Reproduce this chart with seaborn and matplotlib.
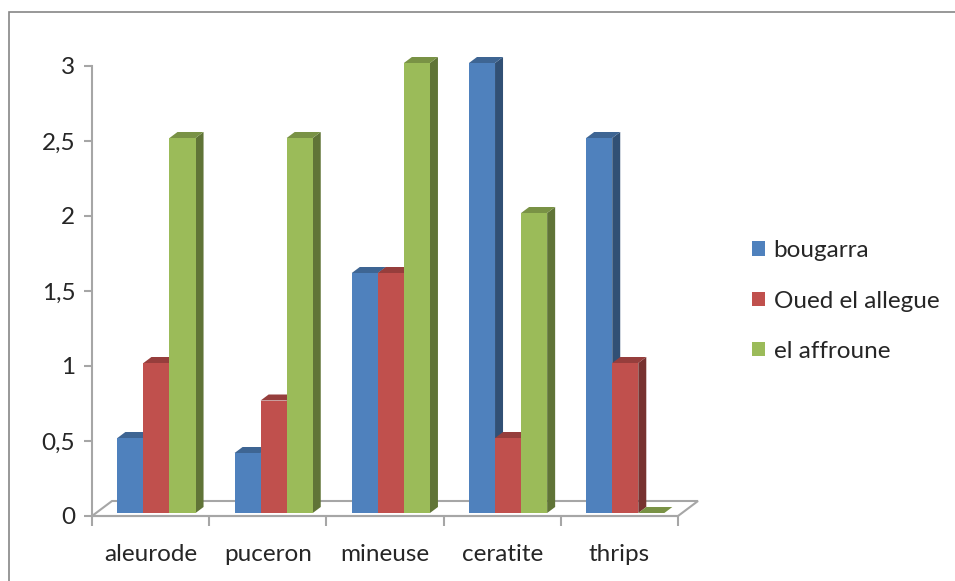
import numpy as np
import pandas as pd
import seaborn as sns
import matplotlib.pyplot as plt
from matplotlib.patches import Polygon, Rectangle
from matplotlib.colors import to_rgb

# donnees
categories = ["aleurode", "puceron", "mineuse", "ceratite", "thrips"]
series = ["bougarra", "Oued el allegue", "el affroune"]
bougarra = [0.5, 0.4, 1.6, 3.0, 2.5]
oued_el_allegue = [1.0, 0.75, 1.6, 0.5, 1.0]
el_affroune = [2.5, 2.5, 3.0, 2.0, 0.0]
yticks = [0, 0.5, 1, 1.5, 2, 2.5, 3]
ytick_labels = ["0", "0,5", "1", "1,5", "2", "2,5", "3"]

colors = ["#4F81BD", "#C0504D", "#9BBB59"]

df = pd.DataFrame({
    "categorie": categories * 3,
    "serie": [s for s in series for _ in categories],
    "valeur": bougarra + oued_el_allegue + el_affroune,
})

sns.set_style("white")
plt.rcParams["font.family"] = ["Lato", "DejaVu Sans"]

fig = plt.figure(figsize=(9.55, 5.81), dpi=100)
ax = fig.add_axes([92 / 955, 65 / 581, 586 / 955, 450 / 581])

sns.barplot(data=df, x="categorie", y="valeur", hue="serie", order=categories,
            hue_order=series, palette=colors, width=0.667, saturation=1,
            errorbar=None, legend=False, ax=ax, zorder=3)

ax.set_xlim(-0.5, 4.5)
ax.set_ylim(0, 3)

# decalage de profondeur (effet 3D)
ppx = 586 / 5.0
ppy = 150.0
dx, dy = 8 / ppx, 6 / ppy


def darker(c, f):
    r, g, b = to_rgb(c)
    return (r * f, g * f, b * f)


# sol en perspective
fdx, fdy = 20 / ppx, 15 / ppy
floor = Polygon([(-0.5, 0), (4.5, 0), (4.5 + fdx, fdy), (-0.5 + fdx, fdy)],
                closed=True, facecolor="white", edgecolor="#A6A6A6",
                lw=1.5, zorder=1, clip_on=False)
ax.add_patch(floor)

for container, col in zip(ax.containers, colors):
    for bar in container:
        bar.set_x(bar.get_x() + 0.05)
        bar.set_y(0.02)
        bar.set_edgecolor("none")
        x0 = bar.get_x()
        w = bar.get_width()
        h = bar.get_height() + 0.02
        x1 = x0 + w
        side = Polygon([(x1, 0.02), (x1 + dx, 0.02 + dy), (x1 + dx, h + dy), (x1, h)],
                       closed=True, facecolor=darker(col, 0.62), edgecolor="none",
                       zorder=2.9, clip_on=False)
        top = Polygon([(x0, h), (x1, h), (x1 + dx, h + dy), (x0 + dx, h + dy)],
                      closed=True, facecolor=darker(col, 0.78), edgecolor="none",
                      zorder=2.9, clip_on=False)
        ax.add_patch(side)
        ax.add_patch(top)
        bar.set_clip_on(False)

# axes
for s in ["top", "right", "bottom"]:
    ax.spines[s].set_visible(False)
ax.spines["left"].set_color("#A6A6A6")
ax.spines["left"].set_linewidth(1.5)

ax.set_yticks(yticks)
ax.set_yticklabels(ytick_labels)
ax.tick_params(axis="y", direction="out", length=6, width=1.5, color="#A6A6A6",
               labelsize=17.5, pad=6, left=True)
ax.set_xticks(range(len(categories)))
ax.set_xticklabels(categories)
ax.tick_params(axis="x", length=0, labelsize=17.5, pad=20)
ax.set_xticks(np.arange(-0.5, 5.0, 1.0), minor=True)
ax.tick_params(axis="x", which="minor", direction="out", length=7, width=1.5,
               color="#A6A6A6", bottom=True)
ax.set_xlabel("")
ax.set_ylabel("")
ax.grid(False)

# ligne avant du sol = axe x
ax.plot([-0.5, 4.5], [0, 0], color="#A6A6A6", lw=1.5, zorder=1.5, clip_on=False)

# legende
handles = [Rectangle((0, 0), 1, 1, facecolor=c, edgecolor="none") for c in colors]
fig.legend(handles, series, loc="center left", bbox_to_anchor=(742 / 955, 1 - 301 / 581),
           frameon=False, fontsize=17.5, handlelength=0.55, handleheight=0.55,
           handletextpad=0.35, labelspacing=1.2, borderaxespad=0)

# cadre du graphique
fig.patches.append(Rectangle((9 / 955, -0.1), 2, 1 - 12 / 581 + 0.1,
                             transform=fig.transFigure, facecolor="none",
                             edgecolor="#868686", lw=1.2))

fig.savefig("out.png", dpi=100)
